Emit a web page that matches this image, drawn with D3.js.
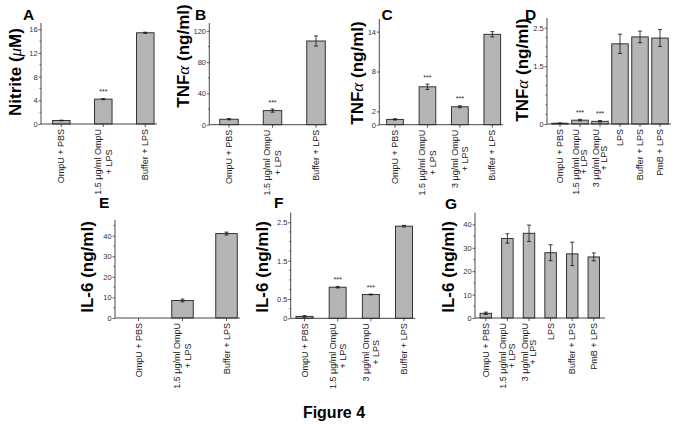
<!DOCTYPE html>
<html><head><meta charset="utf-8">
<script src="https://cdn.jsdelivr.net/npm/d3@7/dist/d3.min.js"></script>
<style>
html,body{margin:0;padding:0;background:#fff;}
svg{display:block;font-family:"Liberation Sans",Arial,sans-serif;}
</style></head>
<body>
<svg id="chart" width="683" height="429"></svg>
<script>
// ---------- DATA ----------
const catsA = ["OmpU + PBS", "1.5 μg/ml OmpU\n+ LPS", "Buffer + LPS"];
const valsA = [0.6, 4.2, 15.4];
const errA  = [0.05, 0.1, 0.1];
const starA = [false, true, false];
const ticksA = [0, 4, 8, 12, 16];

const catsB = ["OmpU + PBS", "1.5 μg/ml OmpU\n+ LPS", "Buffer + LPS"];
const valsB = [7, 18, 107];
const errB  = [0.8, 2, 6.5];
const starB = [false, true, false];
const ticksB = [0, 40, 80, 120];

const catsC = ["OmpU + PBS", "1.5 μg/ml OmpU\n+ LPS", "3 μg/ml OmpU\n+ LPS", "Buffer + LPS"];
const valsC = [0.8, 5.7, 2.7, 13.6];
const errC  = [0.1, 0.4, 0.15, 0.4];
const starC = [false, true, true, false];
const ticksC = [0, 2, 8, 14];

const catsD = ["OmpU + PBS", "1.5 μg/ml OmpU\n+ LPS", "3 μg/ml OmpU\n+ LPS", "LPS", "Buffer + LPS", "PmB + LPS"];
const valsD = [0.02, 0.1, 0.07, 2.08, 2.26, 2.23];
const errD  = [0.01, 0.02, 0.02, 0.25, 0.15, 0.22];
const starD = [false, true, true, false, false, false];
const ticksD = [0, 1.5, 2.5];

const catsE = ["OmpU + PBS", "1.5 μg/ml OmpU\n+ LPS", "Buffer + LPS"];
const valsE = [0, 8.5, 41];
const errE  = [0, 0.7, 0.7];
const starE = [false, false, false];
const ticksE = [0, 10, 20, 30, 40];

const catsF = ["OmpU + PBS", "1.5 μg/ml OmpU\n+ LPS", "3 μg/ml OmpU\n+ LPS", "Buffer + LPS"];
const valsF = [0.05, 0.81, 0.62, 2.4];
const errF  = [0.02, 0.02, 0.01, 0.02];
const starF = [false, true, true, false];
const ticksF = [0, 0.5, 1.5, 2.5];

const catsG = ["OmpU + PBS", "1.5 μg/ml OmpU\n+ LPS", "3 μg/ml OmpU\n+ LPS", "LPS", "Buffer + LPS", "PmB + LPS"];
const valsG = [2, 34, 36.2, 27.9, 27.4, 26.1];
const errG  = [0.5, 2, 3.5, 3.4, 5, 1.7];
const starG = [false, false, false, false, false, false];
const ticksG = [0, 10, 20, 30, 40];

const yLabelNitrite = ["Nitrite (", "μ", "M)"];
const yLabelTNF = ["TNF", "α", " (ng/ml)"];
const yLabelIL6 = ["IL-6 (ng/ml)", "", ""];
const figTitle = "Figure 4";

// ---------- LAYOUT ----------
const panels = [
  {letter:"A", cats:catsA, vals:valsA, err:errA, star:starA, ticks:ticksA, minor:2, label:yLabelNitrite,
   ax:41, base:124, top:23, max:17.05, first:61.3, last:145.3, bw:17.5, end:157, labX:15, labY:72, letX:23, letY:20},
  {letter:"B", cats:catsB, vals:valsB, err:errB, star:starB, ticks:ticksB, minor:20, label:yLabelTNF,
   ax:209.3, base:124.7, top:23, max:130, first:229, last:316, bw:18.5, end:327, labX:183, labY:56, letX:195, letY:20},
  {letter:"C", cats:catsC, vals:valsC, err:errC, star:starC, ticks:ticksC, minor:0, label:yLabelTNF,
   ax:379.3, base:124.7, top:19, max:15.9, first:395, last:492.3, bw:16.7, end:503, labX:357, labY:73, letX:381.5, letY:20},
  {letter:"D", cats:catsD, vals:valsD, err:errD, star:starD, ticks:ticksD, minor:0.25, label:yLabelTNF,
   ax:547, base:124, top:18, max:2.75, first:560, last:660, bw:16.5, end:671, labX:522, labY:70, letX:525, letY:20},
  {letter:"E", cats:catsE, vals:valsE, err:errE, star:starE, ticks:ticksE, minor:5, label:yLabelIL6,
   ax:115, base:318, top:220, max:47.6, first:138.5, last:226.5, bw:21.5, end:240, labX:87.5, labY:267, letX:99, letY:208},
  {letter:"F", cats:catsF, vals:valsF, err:errF, star:starF, ticks:ticksF, minor:0.25, label:yLabelIL6,
   ax:290.7, base:318.3, top:212.7, max:2.75, first:304.5, last:404, bw:17, end:415, labX:262.5, labY:267, letX:274, letY:208},
  {letter:"G", cats:catsG, vals:valsG, err:errG, star:starG, ticks:ticksG, minor:5, label:yLabelIL6,
   ax:475, base:318, top:212.7, max:45, first:485.8, last:593.8, bw:11.5, end:605, labX:448.5, labY:267, letX:445, letY:209},
];

const svg = d3.select("#chart");
const axisCol = "#333";
const barFill = "#b5b5b5";

panels.forEach(p => {
  const g = svg.append("g");
  const idx = p.cats.map((c,i)=>i);
  const x = d3.scalePoint().domain(idx).range([p.first, p.last]);
  const y = d3.scaleLinear().domain([0, p.max]).range([p.base, p.top]);

  // bars
  g.selectAll("rect.bar").data(idx).join("rect")
    .attr("x", i => x(i) - p.bw/2)
    .attr("y", i => y(p.vals[i]))
    .attr("width", p.bw)
    .attr("height", i => p.base - y(p.vals[i]))
    .attr("fill", barFill)
    .attr("stroke", "#222")
    .attr("stroke-width", 0.9);

  // error bars and significance stars
  idx.forEach(i => {
    if (p.err[i] <= 0) return;
    const yt = y(p.vals[i] + p.err[i]), yb = y(p.vals[i] - p.err[i]);
    const cx = x(i);
    g.append("line").attr("x1",cx).attr("x2",cx).attr("y1",yt).attr("y2",yb)
      .attr("stroke","#111").attr("stroke-width",0.8);
    [yt,yb].forEach(yy => g.append("line").attr("x1",cx-2).attr("x2",cx+2).attr("y1",yy).attr("y2",yy)
      .attr("stroke","#111").attr("stroke-width",0.8));
    if (p.star[i]) {
      g.append("text").attr("x",cx).attr("y",yt-4.5).attr("text-anchor","middle")
        .attr("font-size",7).attr("fill","#222").text("***");
    }
  });

  // y axis
  const yAxis = d3.axisLeft(y).tickValues(p.ticks).tickSize(2.5).tickPadding(0.8)
    .tickFormat(d => d3.format("")(d));
  const ga = g.append("g").attr("transform",`translate(${p.ax},0)`).call(yAxis);
  ga.select(".domain").attr("d", `M0,${p.base}V${p.top}`).attr("stroke",axisCol).attr("stroke-width",0.9);
  ga.selectAll(".tick line").attr("stroke",axisCol).attr("stroke-width",0.8);
  ga.selectAll(".tick text").attr("font-size",7.5).attr("fill","#333")
    .attr("font-family","'Liberation Sans',Arial,sans-serif");
  if (p.minor) {
    const mt = d3.range(p.minor, p.max, p.minor).filter(v => !p.ticks.some(t => Math.abs(t - v) < 1e-6));
    g.selectAll("line.minor").data(mt).join("line")
      .attr("x1",p.ax-1.5).attr("x2",p.ax).attr("y1",d=>y(d)).attr("y2",d=>y(d))
      .attr("stroke",axisCol).attr("stroke-width",0.7);
  }

  // x axis
  g.append("line").attr("x1",p.ax).attr("x2",p.end).attr("y1",p.base).attr("y2",p.base)
    .attr("stroke",axisCol).attr("stroke-width",0.9);
  g.selectAll("line.xt").data(idx).join("line")
    .attr("x1",i=>x(i)).attr("x2",i=>x(i)).attr("y1",p.base).attr("y2",p.base+3)
    .attr("stroke",axisCol).attr("stroke-width",0.8);

  // rotated category labels
  idx.forEach(i => {
    const lines = p.cats[i].split("\n");
    const lh = p.cats.length > 4 ? 8.6 : 10.5;
    const lg = g.append("g").attr("transform",`translate(${x(i)},${p.base+5}) rotate(-90)`);
    const ts = lines.map((s,k) => lg.append("text")
      .attr("font-size",9).attr("fill","#222")
      .attr("y",(k-(lines.length-1)/2)*lh).attr("dy","0.35em")
      .attr("text-anchor","middle").text(s));
    const wmax = d3.max(ts, t => t.node().getComputedTextLength());
    ts.forEach(t => t.attr("x", -wmax/2));
  });

  // y label
  const yl = g.append("text")
    .attr("transform",`translate(${p.labX},${p.labY}) rotate(-90)`)
    .attr("text-anchor","middle").attr("dy","0.35em")
    .attr("font-size",17).attr("font-weight","bold").attr("fill","#000");
  yl.append("tspan").text(p.label[0]);
  if (p.label[1]) yl.append("tspan").attr("font-weight","normal").attr("font-family","'Liberation Serif',serif").attr("font-style","italic").text(p.label[1]);
  if (p.label[2]) yl.append("tspan").text(p.label[2]);

  // panel letter
  g.append("text").attr("x",p.letX).attr("y",p.letY)
    .attr("font-size",15.5).attr("font-weight","bold").attr("fill","#000").text(p.letter);
});

svg.append("text").attr("x",334).attr("y",418).attr("text-anchor","middle")
  .attr("font-size",16).attr("font-weight","bold").attr("fill","#000").text(figTitle);
</script>
</body></html>
